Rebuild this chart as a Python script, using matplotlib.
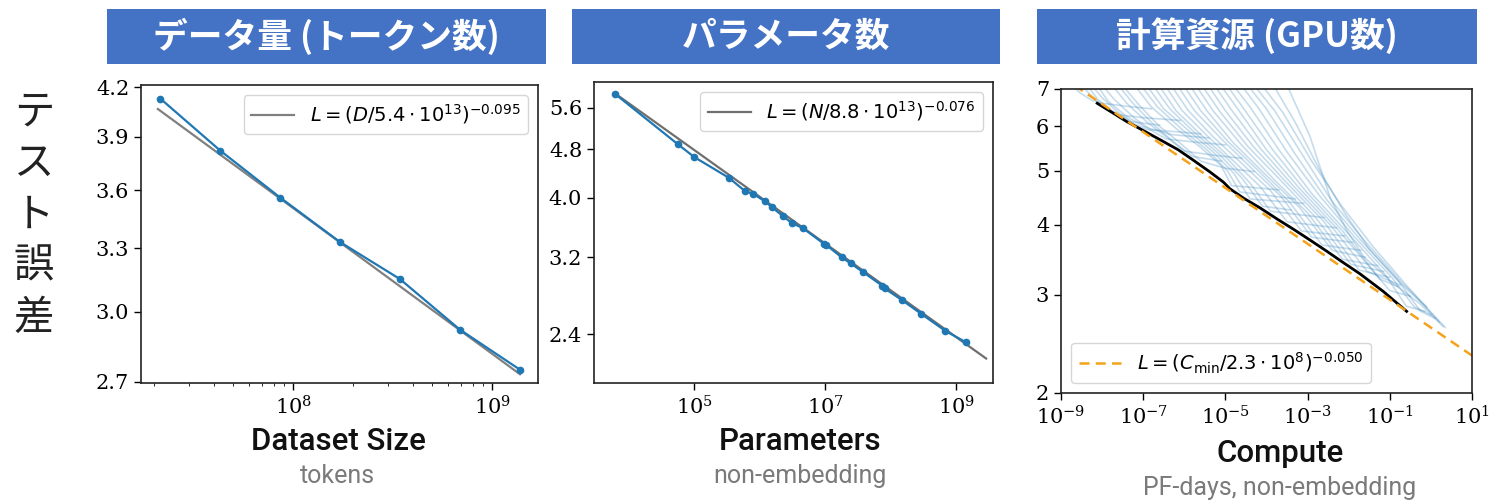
import numpy as np
import matplotlib.pyplot as plt
from matplotlib.font_manager import FontProperties
from matplotlib.patches import Rectangle
from matplotlib.ticker import FixedLocator, NullLocator, FuncFormatter

plt.rcParams['font.family'] = ['DejaVu Serif']
plt.rcParams['mathtext.fontset'] = 'dejavuserif'

# --- data: test loss vs dataset size (tokens)
dataset_size = [2.15e7, 4.3e7, 8.6e7, 1.72e8, 3.44e8, 6.88e8, 1.376e9]
dataset_loss = [4.13, 3.82, 3.56, 3.33, 3.15, 2.92, 2.75]

# --- data: test loss vs non-embedding parameters
param_count = [6.2e3, 5.6e4, 1.0e5, 3.4e5, 6.0e5, 7.9e5, 1.2e6, 1.55e6, 2.3e6, 3.1e6,
               4.6e6, 9.5e6, 1.05e7, 1.8e7, 2.45e7, 3.8e7, 7.4e7, 8.1e7, 1.48e8,
               2.95e8, 6.9e8, 1.41e9]
param_loss = [5.90, 4.89, 4.66, 4.31, 4.10, 4.06, 3.95, 3.86, 3.73, 3.64,
              3.57, 3.37, 3.35, 3.20, 3.13, 3.03, 2.88, 2.85, 2.73,
              2.59, 2.43, 2.33]

# --- data: compute-efficient frontier (log10 PF-days, loss)
frontier_logc = [-8.12, -7.75, -7.40, -7.00, -6.59, -6.15, -5.78, -5.37, -5.05, -4.89,
                 -4.55, -4.16, -3.75, -3.35, -2.95, -2.54, -2.15, -1.73, -1.16, -0.59]
frontier_loss = [6.60, 6.35, 6.12, 5.90, 5.68, 5.45, 5.22, 4.97, 4.77, 4.64,
                 4.46, 4.29, 4.10, 3.93, 3.76, 3.59, 3.43, 3.27, 3.04, 2.80]

# individual learning curves (log10 PF-days, loss)
curve_logc = [
    [-8.85, -8.55, -8.25, -8.0, -7.4, -6.8],
    [-8.6, -8.3, -8.0, -7.65, -7.0, -6.1],
    [-8.45, -8.1, -7.75, -7.3, -6.6],
    [-8.35, -8.0, -7.6, -7.2, -6.9, -6.2, -5.6],
    [-8.2, -7.85, -7.4, -6.95, -6.3, -5.4],
    [-8.1, -7.7, -7.2, -6.8, -6.45, -5.8, -5.0],
    [-7.85, -7.4, -6.9, -6.4, -6.0, -5.3, -4.6],
    [-7.7, -7.25, -6.75, -6.25, -5.8, -5.1],
    [-7.6, -7.1, -6.6, -6.1, -5.6, -5.0, -4.3],
    [-7.3, -6.8, -6.2, -5.6, -5.1, -4.85, -3.7],
    [-7.15, -6.65, -6.05, -5.45, -4.95, -4.65, -3.3],
    [-7.0, -6.5, -5.9, -5.3, -4.8, -4.4, -3.1],
    [-6.85, -6.35, -5.75, -5.15, -4.6, -4.1, -3.4],
    [-6.7, -6.2, -5.6, -5.0, -4.4, -3.9, -2.6],
    [-6.55, -6.05, -5.45, -4.8, -4.15, -3.5, -2.3],
    [-6.4, -5.9, -5.3, -4.6, -3.9, -3.15, -2.1],
    [-6.25, -5.75, -5.1, -4.4, -3.65, -2.9, -1.9],
    [-6.1, -5.6, -4.95, -4.2, -3.45, -2.65, -1.7],
    [-5.95, -5.45, -4.8, -4.0, -3.2, -2.4, -1.6],
    [-5.8, -5.3, -4.6, -3.85, -3.0, -2.15, -1.3],
    [-5.65, -5.15, -4.45, -3.65, -2.8, -1.95, -1.15],
    [-5.5, -5.0, -4.3, -3.5, -2.6, -1.75, -1.0],
    [-5.35, -4.85, -4.15, -3.35, -2.45, -1.55, -0.75],
    [-5.2, -4.7, -4.0, -3.2, -2.3, -1.4, -1.0, -0.5],
    [-5.05, -4.55, -3.85, -3.05, -2.15, -1.25, -0.8],
    [-4.9, -4.4, -3.7, -2.9, -2.0, -1.1, -0.6, -0.15],
    [-4.7, -4.2, -3.5, -2.7, -1.85, -0.95, -0.4, 0.0],
    [-4.55, -4.0, -3.3, -2.55, -1.7, -0.8, -0.25, 0.1],
    [-4.4, -3.8, -3.1, -2.4, -1.55, -0.7, -0.1],
    [-4.2, -3.6, -2.9, -2.2, -1.4, -0.6, 0.2],
    [-3.9, -3.3, -2.7, -2.1, -1.5, -0.75, -0.1, 0.35],
    [-3.55, -2.94, -2.46, -2.05, -1.64, -0.91, -0.27, 0.30],
]
curve_loss = [
    [7.25, 6.9, 6.68, 6.6, 6.52, 6.45],
    [7.25, 6.85, 6.55, 6.3, 6.22, 6.15],
    [7.25, 6.7, 6.4, 6.12, 6.03],
    [7.25, 6.75, 6.35, 6.05, 5.92, 5.87, 5.82],
    [7.25, 6.65, 6.25, 5.98, 5.8, 5.72],
    [7.25, 6.7, 6.2, 5.9, 5.7, 5.63, 5.56],
    [7.25, 6.6, 6.1, 5.72, 5.42, 5.33, 5.26],
    [7.25, 6.6, 6.05, 5.62, 5.3, 5.2],
    [7.25, 6.55, 6.0, 5.6, 5.2, 5.05, 4.98],
    [7.25, 6.5, 5.95, 5.5, 5.1, 4.7, 4.62],
    [7.25, 6.5, 5.92, 5.45, 5.0, 4.58, 4.45],
    [7.25, 6.45, 5.9, 5.4, 4.95, 4.45, 4.37],
    [7.25, 6.45, 5.85, 5.35, 4.85, 4.32, 4.25],
    [7.25, 6.4, 5.8, 5.3, 4.75, 4.23, 4.12],
    [7.25, 6.4, 5.78, 5.2, 4.68, 4.05, 3.95],
    [7.25, 6.4, 5.75, 5.15, 4.6, 3.9, 3.82],
    [7.25, 6.4, 5.7, 5.08, 4.5, 3.8, 3.72],
    [7.25, 6.4, 5.65, 5.0, 4.4, 3.68, 3.6],
    [7.25, 6.4, 5.6, 4.9, 4.3, 3.6, 3.5],
    [7.25, 6.4, 5.55, 4.85, 4.2, 3.47, 3.38],
    [7.25, 6.4, 5.52, 4.8, 4.12, 3.4, 3.3],
    [7.25, 6.4, 5.5, 4.75, 4.05, 3.32, 3.22],
    [7.25, 6.42, 5.48, 4.7, 4.0, 3.3, 3.12],
    [7.25, 6.45, 5.45, 4.65, 3.95, 3.3, 3.05, 2.98],
    [7.25, 6.45, 5.45, 4.6, 3.9, 3.2, 3.1],
    [7.25, 6.5, 5.45, 4.55, 3.85, 3.25, 2.86, 2.8],
    [7.25, 6.48, 5.4, 4.5, 3.8, 3.22, 2.85, 2.76],
    [7.25, 6.45, 5.35, 4.45, 3.75, 3.18, 2.8, 2.72],
    [7.25, 6.4, 5.3, 4.4, 3.7, 3.15, 2.85],
    [7.25, 6.35, 5.2, 4.35, 3.65, 3.12, 2.68],
    [7.25, 6.1, 5.0, 4.2, 3.62, 3.15, 2.84, 2.62],
    [7.25, 5.75, 4.49, 3.91, 3.51, 3.14, 2.89, 2.63],
]

headers = ['データ量 (トークン数)', 'パラメータ数', '計算資源 (GPU数)']
titles = ['Dataset Size', 'Parameters', 'Compute']
subtitles = ['tokens', 'non-embedding', 'PF-days, non-embedding']
ylabel_chars = list('テスト誤差')

W, H = 1489, 501
fig = plt.figure(figsize=(W / 100, H / 100), dpi=100)


def box(l, t, r, b):
    return [l / W, 1 - b / H, (r - l) / W, (b - t) / H]


def px(x, y):
    return x / W, 1 - y / H


legend_font = FontProperties(family='DejaVu Sans', size=14, math_fontfamily='dejavusans')

ax1 = fig.add_axes(box(141, 85, 538, 383))
ax2 = fig.add_axes(box(594, 82, 993, 383))
ax3 = fig.add_axes(box(1061, 89, 1472, 393))

for ax in (ax1, ax2, ax3):
    ax.set_xscale('log')
    ax.set_yscale('log')
    ax.tick_params(labelsize=15, length=5, width=1)
    for s in ax.spines.values():
        s.set_linewidth(1.2)
        s.set_color('#222222')

# dataset size panel
d_fit = np.logspace(np.log10(2.09e7), np.log10(1.38e9), 50)
ax1.plot(d_fit, (d_fit / 5.4e13) ** -0.095, color='#808080', lw=1.6,
         label=r'$L = (D/5.4\cdot10^{13})^{-0.095}$')
ax1.plot(dataset_size, dataset_loss, color='#1f77b4', lw=1.6, marker='o', ms=4.5)
ax1.set_xlim(1.72e7, 1.70e9)
ax1.set_ylim(2.695, 4.215)
ax1.yaxis.set_major_locator(FixedLocator([2.7, 3.0, 3.3, 3.6, 3.9, 4.2]))
ax1.yaxis.set_major_formatter(FuncFormatter(lambda v, p: f'{v:.1f}'))
ax1.yaxis.set_minor_locator(NullLocator())
ax1.xaxis.set_major_locator(FixedLocator([1e8, 1e9]))
ax1.legend(loc='upper right', prop=legend_font, handlelength=2.2)

# parameters panel
n_fit = np.logspace(np.log10(6.2e3), 9.46, 50)
ax2.plot(n_fit, (n_fit / 8.8e13) ** -0.076, color='#6f6f6f', lw=1.6,
         label=r'$L = (N/8.8\cdot10^{13})^{-0.076}$')
ax2.plot(param_count, param_loss, color='#1f77b4', lw=1.6, marker='o', ms=4.5)
ax2.set_xlim(2950, 3.67e9)
ax2.set_ylim(2.0, 6.17)
ax2.yaxis.set_major_locator(FixedLocator([2.4, 3.2, 4.0, 4.8, 5.6]))
ax2.yaxis.set_major_formatter(FuncFormatter(lambda v, p: f'{v:.1f}'))
ax2.yaxis.set_minor_locator(NullLocator())
ax2.xaxis.set_major_locator(FixedLocator([1e5, 1e7, 1e9]))
ax2.xaxis.set_minor_locator(NullLocator())
ax2.legend(loc='upper right', prop=legend_font, handlelength=2.2)

# compute panel
for lc, ll in zip(curve_logc, curve_loss):
    ax3.plot(10.0 ** np.array(lc), ll, color='#1f77b4', alpha=0.25, lw=1.2)
ax3.plot(10.0 ** np.array(frontier_logc), frontier_loss, color='black', lw=2)
c_fit = np.logspace(-9, 1, 100)
ax3.plot(c_fit, (c_fit / 2.3e8) ** -0.050, color='#f5a21b', lw=1.8, ls=(0, (4, 2.5)),
         label=r'$L = (C_{\min}/2.3\cdot10^{8})^{-0.050}$')
ax3.set_xlim(1e-9, 1e1)
ax3.set_ylim(2, 7)
ax3.yaxis.set_major_locator(FixedLocator([2, 3, 4, 5, 6, 7]))
ax3.yaxis.set_major_formatter(FuncFormatter(lambda v, p: f'{v:.0f}'))
ax3.yaxis.set_minor_locator(NullLocator())
ax3.xaxis.set_major_locator(FixedLocator([1e-9, 1e-7, 1e-5, 1e-3, 1e-1, 1e1]))
ax3.xaxis.set_minor_locator(NullLocator())
ax3.legend(loc='lower left', prop=legend_font, handlelength=2.2)

# header boxes
header_boxes = [(107, 546), (572, 1000), (1037, 1477)]
for (l, r), txt in zip(header_boxes, headers):
    fig.patches.append(Rectangle(px(l, 64), (r - l) / W, 55 / H, transform=fig.transFigure,
                                 facecolor='#4472c4', edgecolor='none'))
    fig.text(*px((l + r) / 2, 36), txt, ha='center', va='center', color='white',
             fontsize=25, fontweight='bold', family='Noto Sans CJK JP')

# vertical y label
for i, ch in enumerate(ylabel_chars):
    fig.text(*px(34, 112 + i * 51.5), ch, ha='center', va='center', fontsize=29,
             family='Noto Sans CJK JP', color='#222222')

# x titles
title_pos = [(338, 441, 476), (800, 441, 476), (1280, 453, 488)]
for (x, yt, ys), t, s in zip(title_pos, titles, subtitles):
    fig.text(*px(x, yt), t, ha='center', va='center', fontsize=22.5,
             family='Roboto', fontweight='medium', color='#111111')
    fig.text(*px(x, ys), s, ha='center', va='center', fontsize=18,
             family='Roboto', color='#7a7a7a')

fig.savefig('out.png', dpi=100)
